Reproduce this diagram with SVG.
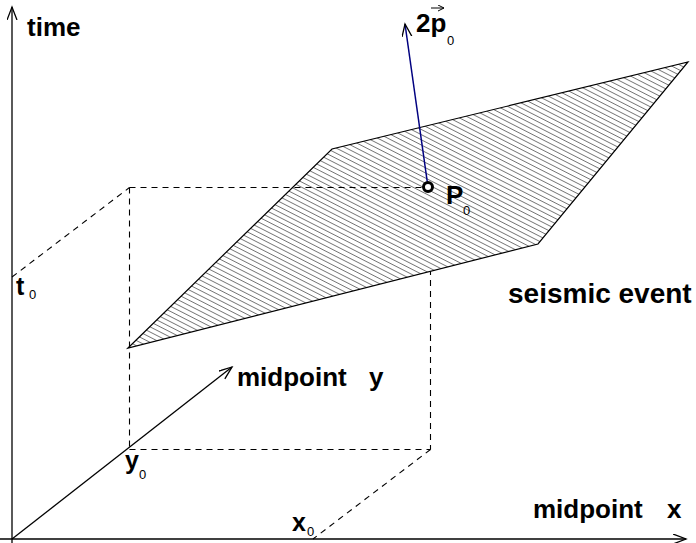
<svg xmlns="http://www.w3.org/2000/svg" width="696" height="543" viewBox="0 0 696 543">
<defs>
<style>
.lbl{font-family:"Liberation Sans",Arial,sans-serif;font-weight:bold;fill:#000}
.sub{font-family:"Liberation Sans",Arial,sans-serif;font-weight:normal;font-size:13px;fill:#000}
.axis{stroke:#000;stroke-width:1.3;fill:none}
.dash{stroke:#000;stroke-width:1.1;fill:none;stroke-dasharray:6 5}
</style>
<marker id="open" markerUnits="userSpaceOnUse" markerWidth="16" markerHeight="12" refX="13" refY="5" orient="auto">
<path d="M0,0 L13,5 L0,10" fill="none" stroke="#000" stroke-width="1.3"/>
</marker>
<marker id="small" markerUnits="userSpaceOnUse" markerWidth="8" markerHeight="8" refX="6" refY="3" orient="auto">
<path d="M0,0 L6,3 L0,6" fill="none" stroke="#000" stroke-width="1"/>
</marker>
<pattern id="hatch" patternUnits="userSpaceOnUse" width="10" height="4.6" patternTransform="rotate(27)">
<line x1="0" y1="2.3" x2="10" y2="2.3" stroke="#222" stroke-width="0.6"/>
</pattern>
</defs>
<rect width="696" height="543" fill="#fff"/>
<g id="connectors">
<line class="axis" x1="12" y1="543" x2="12" y2="7" marker-end="url(#open)"/>
<line class="axis" x1="0" y1="539" x2="686" y2="539" marker-end="url(#open)"/>
<line class="axis" x1="12" y1="539" x2="232" y2="367" marker-end="url(#open)"/>
<line class="dash" x1="129.5" y1="187.5" x2="129.5" y2="449.5"/>
<line class="dash" x1="12" y1="277" x2="129.5" y2="187.5"/>
<line class="dash" x1="129.5" y1="449.5" x2="430.5" y2="449.5"/>
<line class="dash" x1="430.5" y1="449.5" x2="313" y2="539"/>
<line class="dash" x1="430.5" y1="269" x2="430.5" y2="449.5"/>
</g>
<g id="seismic-event">
<polygon points="128,348 332,149 688,62 538,244" fill="#fff"/>
<polygon points="128,348 332,149 688,62 538,244" fill="url(#hatch)" stroke="#000" stroke-width="1.2"/>
<text class="lbl" x="508" y="303" font-size="28">seismic event</text>
</g>
<g id="projection">
<line class="dash" x1="129.5" y1="187.5" x2="424" y2="187.5"/>
</g>
<g id="p0-vector">
<line x1="428" y1="187" x2="405" y2="24" stroke="#000080" stroke-width="1.5" marker-end="url(#open)"/>
<text class="lbl" x="416" y="32" font-size="26">2p</text>
<line x1="431" y1="8" x2="444" y2="8" stroke="#000" stroke-width="1" marker-end="url(#small)"/>
<text class="sub" x="447" y="45">0</text>
</g>
<g id="P0">
<circle cx="428" cy="187" r="4.5" fill="#fff" stroke="#000" stroke-width="3"/>
<text class="lbl" x="446" y="204" font-size="26">P</text>
<text class="sub" x="463" y="215">0</text>
</g>
<g id="labels">
<text class="lbl" x="27" y="36" font-size="26">time</text>
<text class="lbl" x="16" y="295" font-size="25">t</text>
<text class="sub" x="29" y="299">0</text>
<text class="lbl" x="237" y="386" font-size="26">midpoint<tspan x="369">y</tspan></text>
<text class="lbl" x="533" y="518" font-size="26">midpoint<tspan x="667">x</tspan></text>
<text class="lbl" x="125" y="469" font-size="25">y</text>
<text class="sub" x="139" y="479">0</text>
<text class="lbl" x="292" y="531" font-size="25">x</text>
<text class="sub" x="307" y="536">0</text>
</g>
</svg>
